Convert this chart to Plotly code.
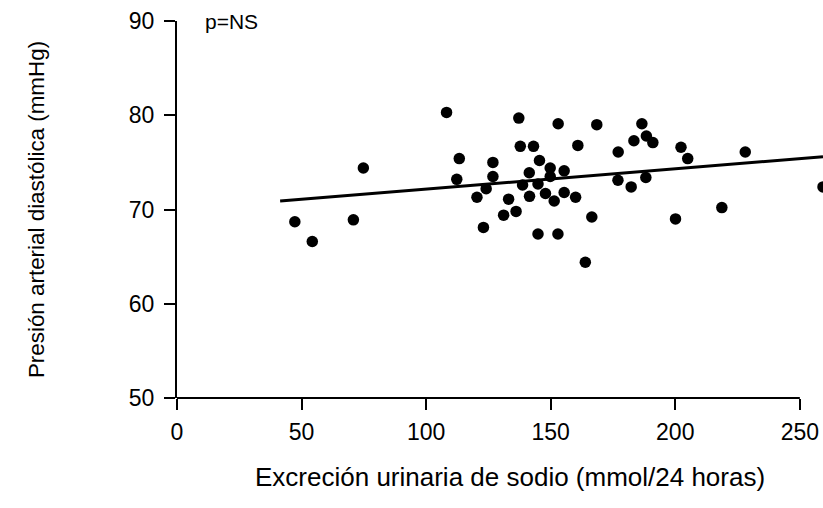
import plotly.graph_objects as go

# Data
sodio = [47.3, 54.3, 70.8, 74.8, 108.2, 113.3, 112.3, 120.4, 137.2, 153.0,
         168.5, 186.6, 183.4, 188.4, 191.0, 177.1, 137.8, 143.1, 160.9, 126.8,
         145.5, 126.8, 141.4, 149.8, 155.4, 149.8, 124.1, 138.7, 144.9, 177.0,
         182.3, 188.2, 133.1, 141.5, 147.9, 151.4, 155.4, 160.0, 131.1, 136.1,
         123.0, 166.5, 144.9, 152.9, 163.9, 202.3, 205.0, 228.1, 218.7, 200.1,
         259.3]
presion = [68.7, 66.6, 68.9, 74.4, 80.3, 75.4, 73.2, 71.3, 79.7, 79.1,
           79.0, 79.1, 77.3, 77.8, 77.1, 76.1, 76.7, 76.7, 76.8, 75.0,
           75.2, 73.5, 73.9, 74.4, 74.1, 73.5, 72.2, 72.6, 72.7, 73.1,
           72.4, 73.4, 71.1, 71.4, 71.7, 70.9, 71.8, 71.3, 69.4, 69.8,
           68.1, 69.2, 67.4, 67.4, 64.4, 76.6, 75.4, 76.1, 70.2, 69.0,
           72.4]
linea_x = [41.4, 259.3]
linea_y = [70.9, 75.6]

x_ticks = [0, 50, 100, 150, 200, 250]
y_ticks = [50, 60, 70, 80, 90]
X_RANGE = [0, 259.3]
Y_RANGE = [50, 90]

x_title = "Excreción urinaria de sodio (mmol/24 horas)"
y_title = "Presión arterial diastólica (mmHg)"

FONT = "Liberation Sans, Arial, Helvetica, sans-serif"

fig = go.Figure()
fig.add_trace(go.Scatter(x=linea_x, y=linea_y, mode="lines",
                         line=dict(color="black", width=3), showlegend=False))
fig.add_trace(go.Scatter(x=sodio, y=presion, mode="markers",
                         marker=dict(color="black", size=11.5), showlegend=False))

def xfrac(v):
    return (v - X_RANGE[0]) / (X_RANGE[1] - X_RANGE[0])

fig.add_shape(type="line", xref="paper", yref="paper",
              x0=xfrac(x_ticks[0]), x1=xfrac(x_ticks[-1]), y0=0, y1=0,
              line=dict(color="black", width=2))

fig.add_annotation(x=10.4, y=89.9, xref="x", yref="y", text="p=NS",
                   showarrow=False, xanchor="left", yanchor="middle",
                   font=dict(size=21, color="black", family=FONT))

# x-axis title placed under the axis
fig.add_annotation(x=0.5155, y=-0.21, xref="paper", yref="paper", text=x_title,
                   showarrow=False, xanchor="center", yanchor="middle",
                   font=dict(size=26, color="black", family=FONT))

fig.update_layout(
    width=823, height=508,
    margin=dict(l=177, r=0, t=21, b=110),
    paper_bgcolor="white", plot_bgcolor="white",
    font=dict(family=FONT, color="black"),
    xaxis=dict(range=X_RANGE, tickvals=x_ticks, ticktext=[str(v) for v in x_ticks],
               showgrid=False, zeroline=False, showline=False,
               ticks="outside", ticklen=11, tickwidth=2, tickcolor="black",
               tickfont=dict(size=23), ticklabelstandoff=2,
               automargin=False),
    yaxis=dict(range=Y_RANGE, tickvals=y_ticks, ticktext=[str(v) for v in y_ticks],
               showgrid=False, zeroline=False, showline=True, linewidth=2,
               linecolor="black",
               ticks="outside", ticklen=11, tickwidth=2, tickcolor="black",
               tickfont=dict(size=23), ticklabelstandoff=5,
               title=dict(text=y_title, font=dict(size=22.4), standoff=78),
               automargin=False),
)

fig.write_html("out.html")
